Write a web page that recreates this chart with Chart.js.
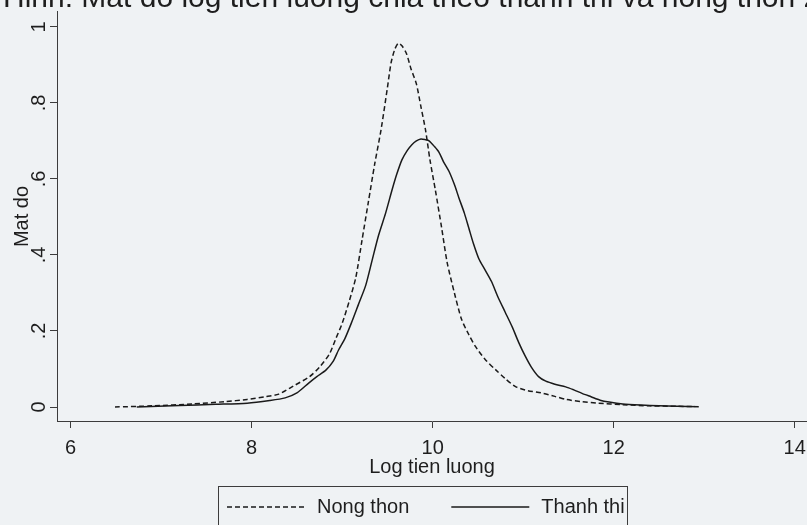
<!DOCTYPE html>
<html><head><meta charset="utf-8">
<script src="https://cdn.jsdelivr.net/npm/chart.js@4"></script>
<style>html,body{margin:0;padding:0;background:#eff2f4;}canvas{display:block}</style>
</head><body>
<canvas id="c" width="807" height="525"></canvas>
<script>
// ---- data ----
const chartTitle = 'Hinh: Mat do log tien luong chia theo thanh thi va nong thon 2010';
const xTitle = 'Log tien luong';
const yTitle = 'Mat do';
const seriesNames = ['Nong thon', 'Thanh thi'];
const xTicks = [6, 8, 10, 12, 14];
const yTicks = [0, 0.2, 0.4, 0.6, 0.8, 1];

const ruralX = [6.49, 6.9, 7.35, 7.7, 7.95, 8.15, 8.3, 8.46, 8.64, 8.75, 8.86, 8.93, 9.0, 9.08, 9.15, 9.22, 9.29, 9.36, 9.43, 9.5, 9.54, 9.58, 9.62, 9.66, 9.71, 9.76, 9.82, 9.87, 9.92, 9.97, 10.03, 10.1, 10.16, 10.24, 10.32, 10.4, 10.47, 10.58, 10.7, 10.8, 10.92, 11.05, 11.2, 11.35, 11.47, 11.65, 11.83, 12.1, 12.4, 12.7, 12.9];
const ruralY = [0.0, 0.003, 0.008, 0.014, 0.02, 0.027, 0.034, 0.055, 0.08, 0.105, 0.14, 0.18, 0.22, 0.28, 0.34, 0.44, 0.54, 0.64, 0.73, 0.84, 0.905, 0.94, 0.957, 0.95, 0.93, 0.89, 0.85, 0.79, 0.73, 0.65, 0.57, 0.47, 0.38, 0.3, 0.23, 0.19, 0.16, 0.125, 0.097, 0.075, 0.053, 0.043, 0.037, 0.028, 0.02, 0.014, 0.01, 0.006, 0.003, 0.002, 0.001];

const urbanX = [6.73, 7.2, 7.6, 7.95, 8.2, 8.37, 8.5, 8.63, 8.72, 8.82, 8.9, 8.96, 9.03, 9.1, 9.18, 9.26, 9.33, 9.4, 9.48, 9.55, 9.6, 9.66, 9.72, 9.77, 9.82, 9.87, 9.92, 9.96, 10.02, 10.07, 10.12, 10.18, 10.24, 10.29, 10.35, 10.4, 10.45, 10.51, 10.58, 10.65, 10.72, 10.8, 10.88, 10.95, 11.02, 11.09, 11.17, 11.25, 11.35, 11.47, 11.56, 11.65, 11.75, 11.85, 11.95, 12.1, 12.3, 12.5, 12.7, 12.94];
const urbanY = [0.0, 0.004, 0.007, 0.01, 0.017, 0.024, 0.037, 0.063, 0.08, 0.097, 0.12, 0.15, 0.18, 0.22, 0.27, 0.32, 0.385, 0.45, 0.51, 0.57, 0.61, 0.65, 0.675, 0.69, 0.7, 0.705, 0.703, 0.7, 0.685, 0.67, 0.645, 0.62, 0.585, 0.55, 0.51, 0.47, 0.43, 0.39, 0.36, 0.33, 0.29, 0.25, 0.21, 0.17, 0.135, 0.105, 0.08, 0.068, 0.06, 0.053, 0.045, 0.036, 0.027, 0.018, 0.013, 0.008, 0.005, 0.003, 0.002, 0.001];

// ---- styling ----
const FONT = "'Liberation Sans', Arial, sans-serif";
const INK = '#1e1e1e';
const AXIS = '#3c3c3c';
const BG = '#eff2f4';
Chart.defaults.font.family = FONT;
Chart.defaults.font.size = 20;
Chart.defaults.color = INK;

const toPts = (xs, ys) => xs.map((x, i) => ({ x: x, y: ys[i] }));
const fmtY = v => v === 0 ? '0' : (v === 1 ? '1' : v.toFixed(1).replace(/^0/, ''));

const bgPlugin = {
  id: 'bg',
  beforeDraw(chart) {
    const ctx = chart.ctx;
    ctx.save(); ctx.fillStyle = BG; ctx.fillRect(0, 0, chart.width, chart.height); ctx.restore();
  }
};

// y axis line continues up to the (cropped) caption, as in the scan
const axisExtendPlugin = {
  id: 'axisExtend',
  afterDraw(chart) {
    const ctx = chart.ctx, a = chart.chartArea;
    ctx.save(); ctx.strokeStyle = AXIS; ctx.lineWidth = 1;
    ctx.beginPath(); ctx.moveTo(Math.round(a.left) + 0.5, a.top); ctx.lineTo(Math.round(a.left) + 0.5, 11); ctx.stroke();
    ctx.restore();
  }
};

const topTitlePlugin = {
  id: 'topTitle',
  afterDraw(chart) {
    const ctx = chart.ctx;
    ctx.save();
    ctx.font = '30px ' + FONT;
    ctx.fillStyle = INK;
    ctx.textBaseline = 'alphabetic';
    ctx.textAlign = 'left';
    ctx.fillText(chartTitle, 3, 7);
    ctx.restore();
  }
};

const boxLegendPlugin = {
  id: 'boxLegend',
  afterDraw(chart) {
    const ctx = chart.ctx;
    const ds = chart.data.datasets;
    ctx.save();
    ctx.font = '20px ' + FONT;
    const sampleW = 78, gapText = 12, gapItem = 42;
    const boxL = 218, boxR = 627, boxT = 486;
    ctx.strokeStyle = AXIS; ctx.lineWidth = 1;
    ctx.strokeRect(boxL + 0.5, boxT + 0.5, boxR - boxL, 80);
    let x = boxL + 9;
    const yc = 507;
    ds.forEach((d, i) => {
      ctx.strokeStyle = d.borderColor; ctx.lineWidth = d.borderWidth;
      ctx.setLineDash(d.borderDash || []);
      ctx.beginPath(); ctx.moveTo(x, yc); ctx.lineTo(x + sampleW, yc); ctx.stroke();
      ctx.setLineDash([]);
      x += sampleW + gapText;
      ctx.fillStyle = INK; ctx.textBaseline = 'middle'; ctx.textAlign = 'left';
      ctx.fillText(d.label, x, yc);
      x += ctx.measureText(d.label).width + gapItem;
    });
    ctx.restore();
  }
};

const axisCommon = {
  grid: { display: true, drawOnChartArea: false, drawTicks: true, tickLength: 7, color: AXIS, lineWidth: 1 },
  border: { display: true, color: AXIS, width: 1 }
};

new Chart(document.getElementById('c'), {
  type: 'line',
  data: {
    datasets: [
      { label: seriesNames[0], data: toPts(ruralX, ruralY), borderColor: '#1a1a1a', borderWidth: 1.5, borderDash: [5, 3], pointRadius: 0, fill: false, tension: 0.25 },
      { label: seriesNames[1], data: toPts(urbanX, urbanY), borderColor: '#1a1a1a', borderWidth: 1.5, pointRadius: 0, fill: false, tension: 0.25 }
    ]
  },
  options: {
    responsive: false, animation: false, devicePixelRatio: 1,
    layout: { padding: { top: 12, bottom: 39, left: 0, right: 0 } },
    plugins: { legend: { display: false }, title: { display: false }, tooltip: { enabled: false } },
    scales: {
      x: Object.assign({}, axisCommon, {
        type: 'linear', position: 'bottom', min: 5.849, max: 14.136,
        afterBuildTicks: s => { s.ticks = xTicks.map(v => ({ value: v })); },
        afterFit: s => { s.height = 65; s.paddingLeft = 0; s.paddingRight = 0; },
        ticks: { autoSkip: false, maxRotation: 0, minRotation: 0, padding: 8, color: INK, font: { size: 20 } },
        title: { display: true, text: xTitle, color: INK, font: { size: 20 }, padding: { top: 0, bottom: 7 } }
      }),
      y: Object.assign({}, axisCommon, {
        type: 'linear', position: 'left', min: -0.0368, max: 1.039,
        afterBuildTicks: s => { s.ticks = yTicks.map(v => ({ value: v })); },
        afterFit: s => { s.width = 57; s.paddingTop = 0; s.paddingBottom = 0; },
        ticks: { autoSkip: false, minRotation: 90, maxRotation: 90, crossAlign: 'center', padding: 2, color: INK, font: { size: 20 }, callback: v => fmtY(v) },
        title: { display: true, text: yTitle, color: INK, font: { size: 20 }, padding: { top: 10, bottom: 0 } }
      })
    }
  },
  plugins: [bgPlugin, axisExtendPlugin, topTitlePlugin, boxLegendPlugin]
});
</script>
</body></html>
